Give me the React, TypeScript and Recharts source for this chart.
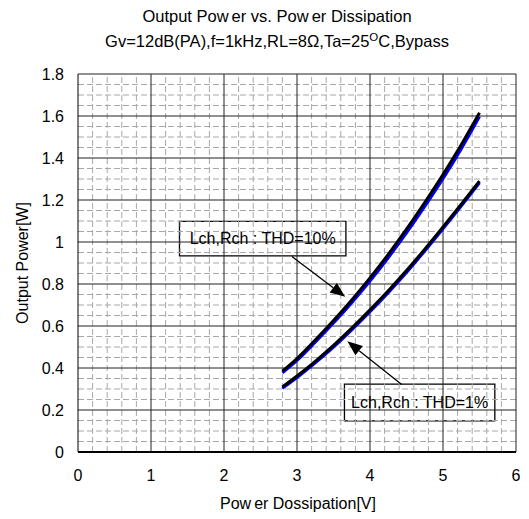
import React from 'react';
import { LineChart, Line, XAxis, YAxis, ReferenceLine, ReferenceArea } from 'recharts';

// Power dissipation [W] (x axis)
const dissipation = [2.8, 3.0, 3.25, 3.5, 3.75, 4.0, 4.25, 4.5, 4.75, 5.0, 5.25, 5.5];
// Output power [W], THD = 10%
const lchThd10 = [0.385, 0.445, 0.533, 0.626, 0.724, 0.829, 0.941, 1.061, 1.188, 1.321, 1.463, 1.615];
const rchThd10 = [0.377, 0.436, 0.523, 0.614, 0.711, 0.814, 0.925, 1.043, 1.169, 1.301, 1.443, 1.597];
// Output power [W], THD = 1%
const lchThd1 = [0.31, 0.362, 0.432, 0.508, 0.59, 0.677, 0.768, 0.864, 0.966, 1.072, 1.18, 1.29];
const rchThd1 = [0.303, 0.354, 0.424, 0.499, 0.581, 0.668, 0.759, 0.855, 0.957, 1.063, 1.171, 1.282];

const xTicks = [0, 1, 2, 3, 4, 5, 6];
const yTicks = [0, 0.2, 0.4, 0.6, 0.8, 1, 1.2, 1.4, 1.6, 1.8];

const annotations = [
  { text: 'Lch,Rch : THD=10%', x1: 1.39, x2: 3.67, y1: 0.934, y2: 1.098, from: [2.93, 0.931], to: [3.66, 0.739] },
  { text: 'Lch,Rch : THD=1%', x1: 3.65, x2: 5.71, y1: 0.148, y2: 0.323, from: [4.43, 0.323], to: [3.69, 0.527] },
];

const data = dissipation.map((x, i) => ({
  x,
  lch10: lchThd10[i],
  rch10: rchThd10[i],
  lch1: lchThd1[i],
  rch1: rchThd1[i],
}));

// minor grid positions
const xMinor: number[] = [];
for (let k = 1; k < 30; k++) if (k % 5 !== 0) xMinor.push(Math.round(k * 0.2 * 1000) / 1000);
const yMinor: number[] = [];
for (let k = 1; k < 36; k++) if (k % 4 !== 0) yMinor.push(Math.round(k * 0.05 * 1000) / 1000);

const FONT = '"Liberation Sans", Arial, Helvetica, sans-serif';

const Arrow = (props: any) => {
  const { x1, y1, x2, y2 } = props;
  const dx = x2 - x1;
  const dy = y2 - y1;
  const len = Math.hypot(dx, dy) || 1;
  const ux = dx / len;
  const uy = dy / len;
  const headLen = 15;
  const headW = 6;
  const bx = x2 - ux * headLen;
  const by = y2 - uy * headLen;
  const px = -uy;
  const py = ux;
  return (
    <g>
      <line x1={x1} y1={y1} x2={bx} y2={by} stroke="#000" strokeWidth={1.3} />
      <polygon
        points={`${x2},${y2} ${bx + px * headW},${by + py * headW} ${bx - px * headW},${by - py * headW}`}
        fill="#000"
      />
    </g>
  );
};

export default function App() {
  const W = 521;
  const H = 511;
  return (
    <div style={{ position: 'relative', width: W, height: H, fontFamily: FONT }}>
      <LineChart
        width={W}
        height={H}
        data={data}
        margin={{ top: 66, right: 13, left: 0, bottom: 7 }}
      >
        <XAxis
          type="number"
          dataKey="x"
          domain={[0, 6]}
          ticks={xTicks}
          allowDataOverflow
          height={60}
          tickLine={false}
          tickSize={0}
          tickMargin={18}
          axisLine={{ stroke: '#000', strokeWidth: 2 }}
          tick={{ fill: '#000', fontSize: 16, fontFamily: FONT }}
        />
        <YAxis
          type="number"
          domain={[0, 1.8]}
          ticks={yTicks}
          allowDataOverflow
          width={70}
          tickLine={false}
          tickSize={0}
          tickMargin={14}
          axisLine={{ stroke: '#000', strokeWidth: 1 }}
          tick={{ fill: '#000', fontSize: 16, fontFamily: FONT }}
        />
        {xMinor.map((v) => (
          <ReferenceLine key={'xm' + v} x={v} stroke="#a8a8a8" strokeWidth={1} strokeDasharray="6 3" />
        ))}
        {yMinor.map((v) => (
          <ReferenceLine key={'ym' + v} y={v} stroke="#a8a8a8" strokeWidth={1} strokeDasharray="6 3" />
        ))}
        {xTicks.slice(1).map((v) => (
          <ReferenceLine key={'xM' + v} x={v} stroke="#222" strokeWidth={1} />
        ))}
        {yTicks.slice(1).map((v) => (
          <ReferenceLine key={'yM' + v} y={v} stroke="#222" strokeWidth={1} />
        ))}
        <Line type="monotone" dataKey="rch10" stroke="#0000ff" strokeWidth={3} dot={false} isAnimationActive={false} />
        <Line type="monotone" dataKey="lch10" stroke="#000" strokeWidth={3} dot={false} isAnimationActive={false} />
        <Line type="monotone" dataKey="rch1" stroke="#0000ff" strokeWidth={3} dot={false} isAnimationActive={false} />
        <Line type="monotone" dataKey="lch1" stroke="#000" strokeWidth={3} dot={false} isAnimationActive={false} />
        {annotations.map((a) => (
          <ReferenceLine
            key={'ar' + a.text}
            segment={[
              { x: a.from[0], y: a.from[1] },
              { x: a.to[0], y: a.to[1] },
            ]}
            shape={Arrow}
          />
        ))}
        {annotations.map((a) => (
          <ReferenceArea
            key={'bx' + a.text}
            x1={a.x1}
            x2={a.x2}
            y1={a.y1}
            y2={a.y2}
            fill="#fff"
            fillOpacity={1}
            stroke="#000"
            strokeWidth={1.3}
            label={{ value: a.text, position: 'center', fill: '#000', fontSize: 16, fontFamily: FONT }}
          />
        ))}
      </LineChart>
      <svg
        width={W}
        height={H}
        style={{ position: 'absolute', left: 0, top: 0, pointerEvents: 'none' }}
      >
        <text x={269} y={14} textAnchor="middle" fontSize={16.5} fontFamily={FONT} fill="#000">
          Output Pow<tspan dx="3">er vs. Pow</tspan><tspan dx="3">er Dissipation</tspan>
        </text>
        <text x={269} y={38.5} textAnchor="middle" fontSize={16.5} fontFamily={FONT} fill="#000">
          Gv=12dB(PA),f=1kHz,RL=8Ω,Ta=25<tspan dy="-6" fontSize={11.5}>O</tspan>
          <tspan dy="6">C,Bypass</tspan>
        </text>
        <text x={290} y={501} textAnchor="middle" fontSize={16} fontFamily={FONT} fill="#000">
          Pow<tspan dx="3">er Dossipation[V]</tspan>
        </text>
        <text
          x={14}
          y={255}
          textAnchor="middle"
          dominantBaseline="central"
          fontSize={16}
          fontFamily={FONT}
          fill="#000"
          transform="rotate(-90, 14, 255)"
        >
          Output Power[W]
        </text>
      </svg>
    </div>
  );
}
